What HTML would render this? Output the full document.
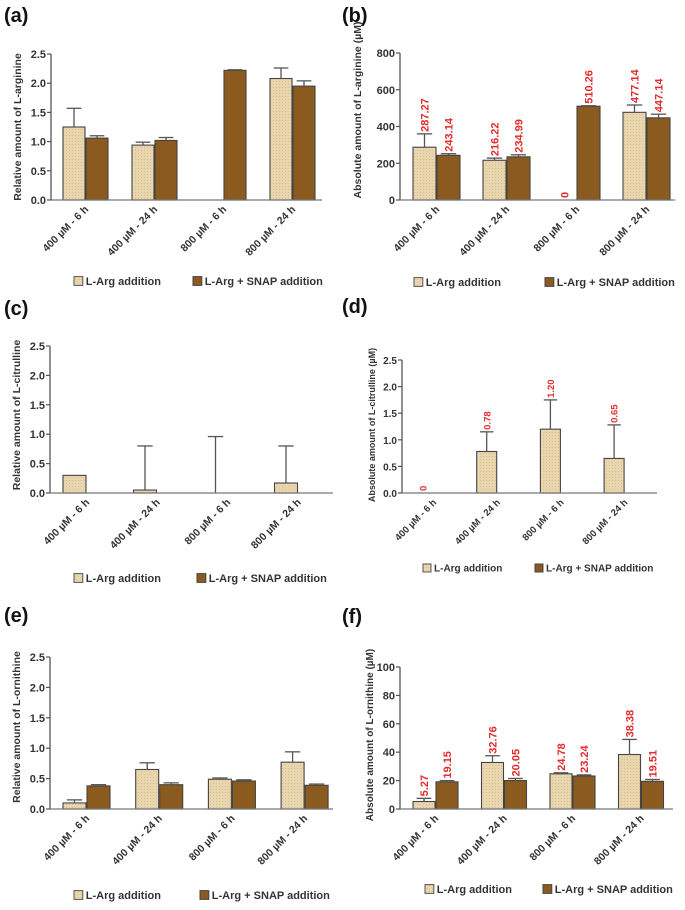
<!DOCTYPE html>
<html><head><meta charset="utf-8"><style>
body{margin:0;background:#fff}
svg{display:block;font-family:"Liberation Sans",sans-serif}
</style></head><body>
<svg id="fig" width="685" height="910" viewBox="0 0 685 910">
<defs>
<pattern id="dots" width="3" height="3" patternUnits="userSpaceOnUse">
<rect width="3" height="3" fill="#ead6ae"/><rect width="1" height="1" fill="#d8bf92"/>
</pattern>
</defs>
</svg>
<script>
const categories=["400 µM - 6 h","400 µM - 24 h","800 µM - 6 h","800 µM - 24 h"];
const aLight=[1.25,0.94,null,2.08], aLightErr=[1.57,0.99,null,2.26];
const aDark=[1.06,1.02,2.22,1.95], aDarkErr=[1.10,1.07,2.23,2.04];
const bLight=[287.27,216.22,0,477.14], bLightErr=[360,228,null,517];
const bDark=[243.14,234.99,510.26,447.14], bDarkErr=[252,246,513,467];
const bLightLbl=["287.27","216.22","0","477.14"], bDarkLbl=["243.14","234.99","510.26","447.14"];
const cLight=[0.30,0.05,0,0.17], cLightErr=[null,0.80,0.96,0.80];
const dLight=[0,0.78,1.20,0.65], dLightErr=[null,1.15,1.75,1.28];
const dLightLbl=["0","0.78","1.20","0.65"];
const eLight=[0.10,0.65,0.49,0.77], eLightErr=[0.15,0.76,0.51,0.94];
const eDark=[0.38,0.40,0.46,0.39], eDarkErr=[0.40,0.43,0.48,0.41];
const fLight=[5.27,32.76,24.78,38.38], fLightErr=[7.5,37.5,25.5,49];
const fDark=[19.15,20.05,23.24,19.51], fDarkErr=[20,21.5,24,20.8];
const fLightLbl=["5.27","32.76","24.78","38.38"], fDarkLbl=["19.15","20.05","23.24","19.51"];
const ticksRel=["0.0","0.5","1.0","1.5","2.0","2.5"];
const ticksB=["0","200","400","600","800"];
const ticksF=["0","20","40","60","80","100"];

const svg=document.getElementById('fig');
const NS="http://www.w3.org/2000/svg";
function mk(tag,attrs,parent){const e=document.createElementNS(NS,tag);for(const k in attrs)e.setAttribute(k,attrs[k]);(parent||svg).appendChild(e);return e;}

function panel(p){
  const g=mk('g',{});
  
  
  const y=v=>p.y0-(v/p.max)*(p.y0-p.ytop);
  const t=mk('text',{x:p.tx,y:p.ty,'font-size':20,'font-weight':'bold',fill:'#111'},g);
  t.textContent='('+p.id+')';
  
  
  // axes
  const ya=mk('line',{x1:p.x0,x2:p.x0,y1:p.ytop,y2:p.y0,stroke:'#555','stroke-width':1.3},g);
  
  
  p.ticks.forEach((lbl,i)=>{
    const v=p.max*i/(p.ticks.length-1);
    mk('line',{x1:p.x0-4,x2:p.x0,y1:y(v),y2:y(v),stroke:'#555','stroke-width':1.2},g);
    const tt=mk('text',{x:p.x0-5,y:y(v)+4,'font-size':p.tf,'font-weight':'bold','text-anchor':'end',fill:'#333'},g);
    tt.textContent=lbl;
    
    
  });
  const yl=mk('text',{x:0,y:0,'font-size':p.lf,'font-weight':'bold','text-anchor':'middle',fill:'#333',transform:`translate(${p.lx},${p.ly}) rotate(-90)`},g);
  yl.textContent=p.ylabel;
  
  
  // bars
  categories.forEach((c,i)=>{
    const left=p.b0+i*p.sp;
    const series=[[p.light,p.lightErr,p.lightLbl,'url(#dots)',0],[p.dark,p.darkErr,p.darkLbl,'#8b5a1e',1]];
    series.forEach(([vals,errs,lbls,fill,k])=>{
      if(!vals)return;
      const v=vals[i];const bx=left+k*(p.bw+1);
      if(v!==null&&v>0){
        const r=mk('rect',{x:bx,y:y(v),width:p.bw,height:p.y0-y(v),fill:fill,stroke:'#444','stroke-width':1.1},g);
        
        
      }
      const e=errs?errs[i]:null;const cx=bx+p.bw/2;
      if(e!==null&&e!==undefined){
        mk('line',{x1:cx,x2:cx,y1:y(e),y2:y(v||0),stroke:'#555','stroke-width':1.3},g);
        mk('line',{x1:cx-p.bw/3,x2:cx+p.bw/3,y1:y(e),y2:y(e),stroke:'#555','stroke-width':1.3},g);
      }
      if(lbls){
        const top=Math.min(y(e!==null&&e!==undefined?e:(v||0)),y(v||0));
        const lt=mk('text',{x:0,y:0,'font-size':p.vf,'font-weight':'bold',fill:'#e32b2b',transform:`translate(${cx+p.vf*0.38},${top-2}) rotate(-90)`},g);
        lt.textContent=lbls[i];
        
        
      }
    });
    const ex=p.b0+i*p.sp+p.bw+4;
    const ct=mk('text',{x:0,y:0,'font-size':p.cf,'font-weight':'bold','text-anchor':'end',fill:'#333',transform:`translate(${ex},${p.y0+10}) rotate(-45)`},g);
    ct.textContent=c;
    
    
  });
  const xa=mk('line',{x1:p.x0,x2:p.x1,y1:p.y0,y2:p.y0,stroke:'#777','stroke-width':1.3},g);
  
  
  // legend
  const lg=mk('g',{},g);
  
  
  const s=p.gf*0.8;
  mk('rect',{x:p.lg1,y:p.lgy-s/2,width:s,height:s,fill:'url(#dots)',stroke:'#555'},lg);
  const l1=mk('text',{x:p.lg1+s+3,y:p.lgy+p.gf*0.36,'font-size':p.gf,'font-weight':'bold',fill:'#333'},lg);
  l1.textContent='L-Arg addition';
  
  
  mk('rect',{x:p.lg2,y:p.lgy-s/2,width:s,height:s,fill:'#8b5a1e',stroke:'#444'},lg);
  const l2=mk('text',{x:p.lg2+s+3,y:p.lgy+p.gf*0.36,'font-size':p.gf,'font-weight':'bold',fill:'#333','xml:space':'preserve'},lg);
  l2.textContent=p.id==='c'?'L-Arg + SNAP  addition':'L-Arg + SNAP addition';
  
  
}

panel({id:'a',tx:4,ty:22,x0:51,x1:322,y0:200,ytop:54,max:2.5,ticks:ticksRel,tf:11,lf:10.5,lx:21,ly:127,ylabel:'Relative amount of L-arginine',
  b0:63,sp:69,bw:22,light:aLight,lightErr:aLightErr,dark:aDark,darkErr:aDarkErr,cf:10.5,lg1:74,lg2:193,lgy:281,gf:11});
panel({id:'b',tx:342,ty:22,x0:400,x1:675,y0:200,ytop:53,max:800,ticks:ticksB,tf:11,lf:10.5,lx:361,ly:110,ylabel:'Absolute amount of L-arginine (µM)',
  b0:413,sp:70,bw:23,light:bLight,lightErr:bLightErr,dark:bDark,darkErr:bDarkErr,lightLbl:bLightLbl,darkLbl:bDarkLbl,vf:11,cf:10.5,lg1:414,lg2:545,lgy:282,gf:11});
panel({id:'c',tx:4,ty:315,x0:50,x1:333,y0:493,ytop:346,max:2.5,ticks:ticksRel,tf:11,lf:10.5,lx:20,ly:415,ylabel:'Relative amount of L-citrulline',
  b0:63,sp:70.5,bw:23,light:cLight,lightErr:cLightErr,cf:10.5,lg1:74,lg2:197,lgy:578,gf:11});
panel({id:'d',tx:342,ty:313,x0:402,x1:657,y0:493,ytop:360,max:2.5,ticks:ticksRel,tf:10,lf:9,lx:375,ly:425,ylabel:'Absolute amount of L-citrulline (µM)',
  b0:413,sp:63.7,bw:20,light:dLight,lightErr:dLightErr,lightLbl:dLightLbl,vf:9.5,cf:9.5,lg1:423,lg2:535,lgy:568,gf:10});
panel({id:'e',tx:4,ty:622,x0:50,x1:333,y0:809,ytop:657,max:2.5,ticks:ticksRel,tf:11,lf:10.5,lx:20,ly:727,ylabel:'Relative amount of L-ornithine',
  b0:63,sp:72.7,bw:23,light:eLight,lightErr:eLightErr,dark:eDark,darkErr:eDarkErr,cf:10.5,lg1:74,lg2:200,lgy:895,gf:11});
panel({id:'f',tx:342,ty:623,x0:400,x1:673,y0:809,ytop:667,max:100,ticks:ticksF,tf:11,lf:10,lx:373,ly:735,ylabel:'Absolute amount of L-ornithine (µM)',
  b0:413,sp:68.5,bw:22,light:fLight,lightErr:fLightErr,dark:fDark,darkErr:fDarkErr,lightLbl:fLightLbl,darkLbl:fDarkLbl,vf:11,cf:10.5,lg1:425,lg2:543,lgy:889,gf:11});
</script>
</body></html>
